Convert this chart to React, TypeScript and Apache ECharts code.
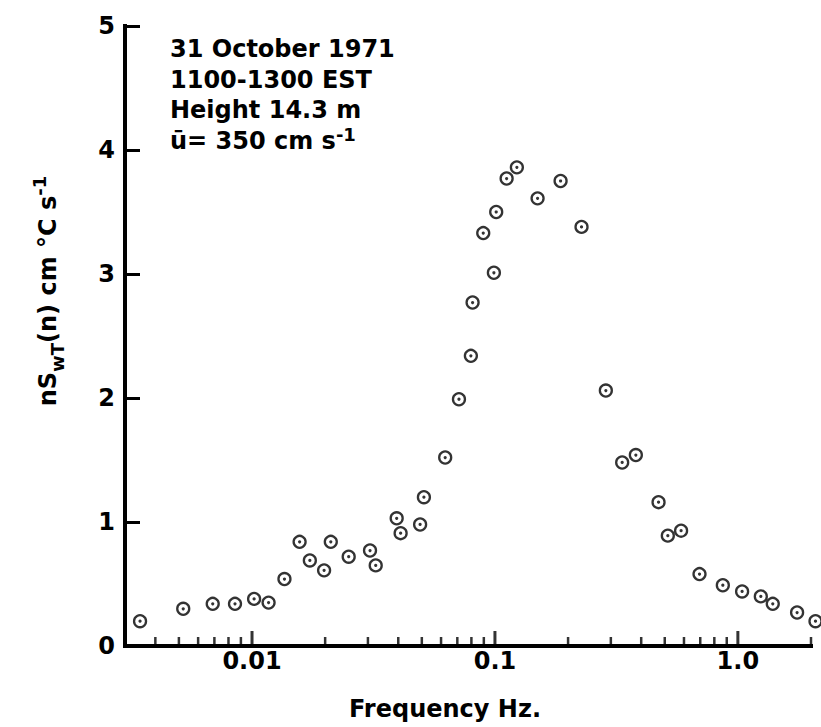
import React, { useEffect, useRef } from 'react';
import * as echarts from 'echarts';

// Frequency (Hz) of each spectral estimate
const frequencyHz = [
  0.00346, 0.00521, 0.00689, 0.00851, 0.0102, 0.0117, 0.0136, 0.0157, 0.0173, 0.0198,
  0.0211, 0.025, 0.0306, 0.0323, 0.0394, 0.0409, 0.0492, 0.051, 0.0624, 0.0711,
  0.0796, 0.0809, 0.0895, 0.099, 0.1012, 0.1117, 0.1231, 0.1498, 0.1863, 0.2272,
  0.2861, 0.334, 0.3802, 0.4715, 0.5148, 0.5838, 0.6952, 0.8671, 1.041, 1.243,
  1.392, 1.753, 2.087,
];

// nS_wT(n) values (cm °C s^-1)
const nSwT = [
  0.2, 0.3, 0.34, 0.34, 0.38, 0.35, 0.54, 0.84, 0.69, 0.61,
  0.84, 0.72, 0.77, 0.65, 1.03, 0.91, 0.98, 1.2, 1.52, 1.99,
  2.34, 2.77, 3.33, 3.01, 3.5, 3.77, 3.86, 3.61, 3.75, 3.38,
  2.06, 1.48, 1.54, 1.16, 0.89, 0.93, 0.58, 0.49, 0.44, 0.4,
  0.34, 0.27, 0.2,
];

const xMin = 0.003;
const xMax = 2.0;
const xMajorTicks = [0.01, 0.1, 1.0];
const xMajorLabels = ['0.01', '0.1', '1.0'];
const xMinorTicks = [
  0.004, 0.005, 0.006, 0.007, 0.008, 0.009,
  0.02, 0.03, 0.04, 0.05, 0.06, 0.07, 0.08, 0.09,
  0.2, 0.3, 0.4, 0.5, 0.6, 0.7, 0.8, 0.9,
  2.0,
];
const yMin = 0;
const yMax = 5;
const yInterval = 1;

const annotationLines = ['31 October 1971', '1100-1300 EST', 'Height 14.3 m'];
const windLine = 'ū= 350 cm s';
const xTitle = 'Frequency Hz.';

const FONT = '"DejaVu Sans", "Liberation Sans", sans-serif';

export default function App() {
  const ref = useRef<HTMLDivElement>(null);

  useEffect(() => {
    if (!ref.current) return;
    const chart = echarts.init(ref.current, undefined, { renderer: 'svg' });

    const points = frequencyHz.map((f, i) => [f, nSwT[i]]);
    const labelFor = (v: number) => {
      for (let i = 0; i < xMajorTicks.length; i++) {
        if (Math.abs(Math.log10(v) - Math.log10(xMajorTicks[i])) < 1e-6) return xMajorLabels[i];
      }
      return '';
    };

    const textBase = { fontFamily: FONT, fontWeight: 'bold', fill: '#000' };

    chart.setOption({
      animation: false,
      backgroundColor: '#fff',
      grid: { left: 125, right: 10, top: 26, bottom: 81, containLabel: false, outerBoundsMode: 'none' },
      xAxis: {
        type: 'log',
        min: xMin,
        max: xMax,
        logBase: 10,
        axisLine: { show: true, lineStyle: { color: '#000', width: 4, cap: 'square' } },
        axisTick: { show: false },
        splitLine: { show: false },
        minorTick: { show: false },
        axisLabel: {
          formatter: (v: number) => labelFor(v),
          color: '#000',
          fontSize: 24,
          fontWeight: 'bold',
          fontFamily: FONT,
          margin: 3,
          showMinLabel: true,
          showMaxLabel: true,
        },
      },
      yAxis: {
        type: 'value',
        min: yMin,
        max: yMax,
        interval: yInterval,
        axisLine: { show: true, lineStyle: { color: '#000', width: 4, cap: 'square' } },
        axisTick: { show: true, inside: true, length: 15, lineStyle: { color: '#000', width: 3 } },
        splitLine: { show: false },
        axisLabel: {
          color: '#000',
          fontSize: 24,
          fontWeight: 'bold',
          fontFamily: FONT,
          margin: 10,
        },
      },
      series: [
        {
          name: 'major ticks',
          type: 'scatter',
          data: xMajorTicks.map((v) => [v, 0]),
          symbol: 'rect',
          symbolSize: [3, 15],
          symbolOffset: [0, -7.5],
          itemStyle: { color: '#000' },
          clip: false,
          silent: true,
          z: 1,
        },
        {
          name: 'minor ticks',
          type: 'scatter',
          data: xMinorTicks.map((v) => [v, 0]),
          symbol: 'rect',
          symbolSize: [2.5, 9],
          symbolOffset: [0, -4.5],
          itemStyle: { color: '#000' },
          clip: false,
          silent: true,
          z: 1,
        },
        {
          name: 'rings',
          type: 'scatter',
          data: points,
          symbol: 'circle',
          symbolSize: 12,
          itemStyle: { color: 'rgba(0,0,0,0)', borderColor: '#000', borderWidth: 2.3 },
          clip: false,
          z: 3,
        },
        {
          name: 'dots',
          type: 'scatter',
          data: points,
          symbol: 'circle',
          symbolSize: 3.2,
          itemStyle: { color: '#000' },
          clip: false,
          z: 4,
        },
      ],
      graphic: [
        ...annotationLines.map((t, i) => ({
          type: 'text',
          x: 170,
          y: 49 + i * 30.5,
          style: {
            ...textBase,
            text: t,
            fontSize: 24,
            textAlign: 'left',
            textVerticalAlign: 'middle',
            align: 'left',
            verticalAlign: 'middle',
          },
        })),
        {
          type: 'text',
          x: 170,
          y: 141,
          style: {
            ...textBase,
            text: `{a|${windLine}}{sup|-1}`,
            fontSize: 24,
            textAlign: 'left',
            textVerticalAlign: 'middle',
            align: 'left',
            verticalAlign: 'middle',
            rich: {
              a: { fontFamily: FONT, fontWeight: 'bold', fontSize: 24, lineHeight: 32, fill: '#000', color: '#000' },
              sup: { fontFamily: FONT, fontWeight: 'bold', fontSize: 18, lineHeight: 18, verticalAlign: 'top', fill: '#000', color: '#000' },
            },
          },
        },
        {
          type: 'text',
          x: 48,
          y: 291,
          rotation: Math.PI / 2,
          style: {
            ...textBase,
            text: '{a|nS}{sub|wT}{a|(n) cm °C s}{sup|-1}',
            fontSize: 24,
            textAlign: 'center',
            textVerticalAlign: 'middle',
            align: 'center',
            verticalAlign: 'middle',
            rich: {
              a: { fontFamily: FONT, fontWeight: 'bold', fontSize: 24, lineHeight: 36, fill: '#000', color: '#000' },
              sub: { fontFamily: FONT, fontWeight: 'bold', fontSize: 18, lineHeight: 18, verticalAlign: 'bottom', fill: '#000', color: '#000' },
              sup: { fontFamily: FONT, fontWeight: 'bold', fontSize: 18, lineHeight: 18, verticalAlign: 'top', fill: '#000', color: '#000' },
            },
          },
        },
        {
          type: 'text',
          x: 445,
          y: 709,
          style: {
            ...textBase,
            text: xTitle,
            fontSize: 24,
            textAlign: 'center',
            textVerticalAlign: 'middle',
            align: 'center',
            verticalAlign: 'middle',
          },
        },
      ],
    });

    return () => chart.dispose();
  }, []);

  return (
    <div
      ref={ref}
      style={{ position: 'absolute', left: 0, top: 0, width: 821, height: 727, background: '#fff' }}
    />
  );
}
